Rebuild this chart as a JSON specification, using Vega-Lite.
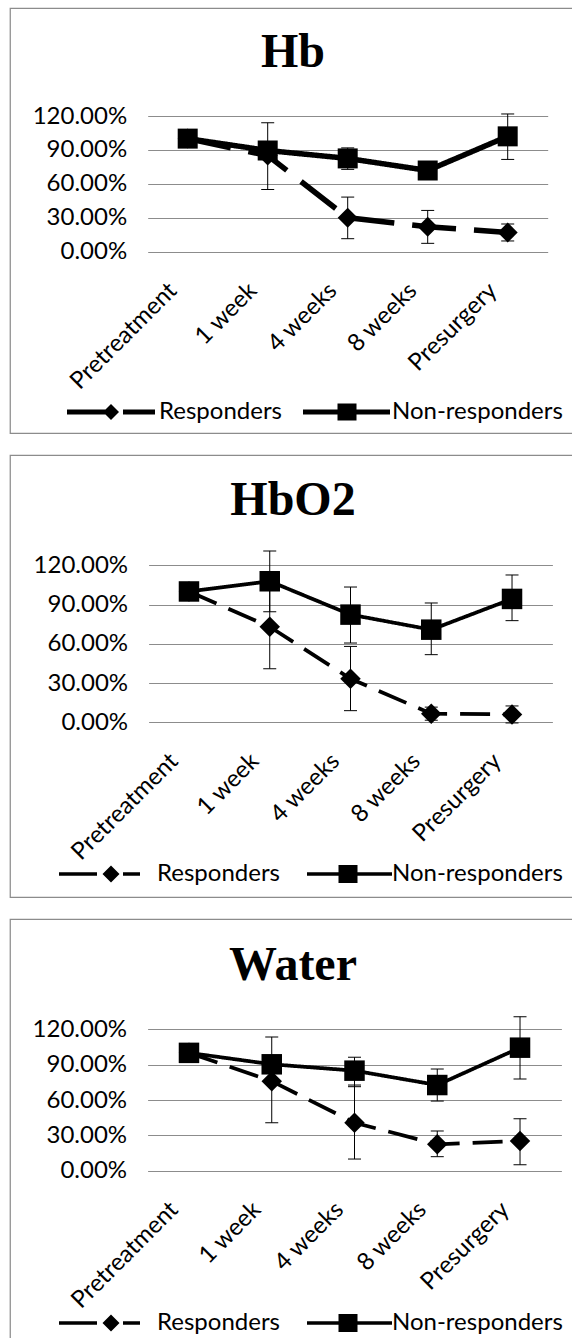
{
  "$schema": "https://vega.github.io/schema/vega-lite/v6.json",
  "padding": {"left": 9, "top": 7, "right": 0, "bottom": 0},
  "background": "white",
  "spacing": 20,
  "data": {"values": [
    {"p": "Hb", "t": "Pretreatment", "s": "Responders", "v": 1.0, "lo": 1.0, "hi": 1.0},
    {"p": "Hb", "t": "1 week", "s": "Responders", "v": 0.85, "lo": 0.55, "hi": 1.14},
    {"p": "Hb", "t": "4 weeks", "s": "Responders", "v": 0.30, "lo": 0.115, "hi": 0.483},
    {"p": "Hb", "t": "8 weeks", "s": "Responders", "v": 0.22, "lo": 0.074, "hi": 0.365},
    {"p": "Hb", "t": "Presurgery", "s": "Responders", "v": 0.17, "lo": 0.095, "hi": 0.245},
    {"p": "Hb", "t": "Pretreatment", "s": "Non-responders", "v": 1.0, "lo": 1.0, "hi": 1.0},
    {"p": "Hb", "t": "1 week", "s": "Non-responders", "v": 0.895, "lo": 0.83, "hi": 0.96},
    {"p": "Hb", "t": "4 weeks", "s": "Non-responders", "v": 0.825, "lo": 0.728, "hi": 0.918},
    {"p": "Hb", "t": "8 weeks", "s": "Non-responders", "v": 0.718, "lo": 0.66, "hi": 0.776},
    {"p": "Hb", "t": "Presurgery", "s": "Non-responders", "v": 1.02, "lo": 0.816, "hi": 1.218},
    {"p": "HbO2", "t": "Pretreatment", "s": "Responders", "v": 1.0, "lo": 1.0, "hi": 1.0},
    {"p": "HbO2", "t": "1 week", "s": "Responders", "v": 0.73, "lo": 0.41, "hi": 1.05},
    {"p": "HbO2", "t": "4 weeks", "s": "Responders", "v": 0.333, "lo": 0.089, "hi": 0.58},
    {"p": "HbO2", "t": "8 weeks", "s": "Responders", "v": 0.066, "lo": 0.016, "hi": 0.116},
    {"p": "HbO2", "t": "Presurgery", "s": "Responders", "v": 0.06, "lo": -0.005, "hi": 0.125},
    {"p": "HbO2", "t": "Pretreatment", "s": "Non-responders", "v": 1.0, "lo": 1.0, "hi": 1.0},
    {"p": "HbO2", "t": "1 week", "s": "Non-responders", "v": 1.078, "lo": 0.845, "hi": 1.31},
    {"p": "HbO2", "t": "4 weeks", "s": "Non-responders", "v": 0.823, "lo": 0.606, "hi": 1.034},
    {"p": "HbO2", "t": "8 weeks", "s": "Non-responders", "v": 0.708, "lo": 0.517, "hi": 0.912},
    {"p": "HbO2", "t": "Presurgery", "s": "Non-responders", "v": 0.943, "lo": 0.777, "hi": 1.126},
    {"p": "Water", "t": "Pretreatment", "s": "Responders", "v": 1.0, "lo": 1.0, "hi": 1.0},
    {"p": "Water", "t": "1 week", "s": "Responders", "v": 0.76, "lo": 0.407, "hi": 1.135},
    {"p": "Water", "t": "4 weeks", "s": "Responders", "v": 0.407, "lo": 0.099, "hi": 0.727},
    {"p": "Water", "t": "8 weeks", "s": "Responders", "v": 0.224, "lo": 0.119, "hi": 0.337},
    {"p": "Water", "t": "Presurgery", "s": "Responders", "v": 0.252, "lo": 0.051, "hi": 0.441},
    {"p": "Water", "t": "Pretreatment", "s": "Non-responders", "v": 1.0, "lo": 1.0, "hi": 1.0},
    {"p": "Water", "t": "1 week", "s": "Non-responders", "v": 0.903, "lo": 0.86, "hi": 0.95},
    {"p": "Water", "t": "4 weeks", "s": "Non-responders", "v": 0.849, "lo": 0.713, "hi": 0.963},
    {"p": "Water", "t": "8 weeks", "s": "Non-responders", "v": 0.727, "lo": 0.591, "hi": 0.863},
    {"p": "Water", "t": "Presurgery", "s": "Non-responders", "v": 1.044, "lo": 0.778, "hi": 1.307}
  ]},
  "resolve": {"scale": {"strokeDash": "independent", "x": "independent", "y": "independent"}, "legend": {"strokeDash": "independent"}},
  "vconcat": [
    {
      "width": 566, "height": 425,
      "view": {"stroke": "#8c8c8c", "strokeWidth": 1.25},
      "title": {"text": "Hb", "font": "Liberation Serif", "fontSize": 48, "fontWeight": "bold", "color": "black", "anchor": "middle", "offset": -69},
      "transform": [{"filter": "datum.p === 'Hb'"}],
      "resolve": {"scale": {"strokeDash": "independent"}, "legend": {"strokeDash": "independent"}},
      "encoding": {
        "x": {"field": "t", "type": "ordinal", "sort": ["Pretreatment", "1 week", "4 weeks", "8 weeks", "Presurgery"], "scale": {"type": "point", "range": [137.7, 537.7], "padding": 0.5}, "axis": {"title": null, "offset": -181.3, "labelAngle": -45, "labelAlign": "right", "labelBaseline": "middle", "labelPadding": 35, "labelOffset": -15, "labelFont": "Lato", "labelFontSize": 24, "labelColor": "black", "domain": false, "ticks": false, "grid": false, "labelOverlap": false, "labelBound": false}},
        "y": {"field": "v", "type": "quantitative", "scale": {"domain": [0, 1.2], "range": [243.7, 108], "nice": false, "zero": false}, "axis": {"title": null, "offset": -137.7, "values": [0, 0.3, 0.6, 0.9, 1.2], "format": ".2%", "grid": true, "gridColor": "#8c8c8c", "gridWidth": 1, "gridOpacity": 1, "domain": false, "ticks": false, "labelPadding": 21, "labelFont": "Lato", "labelFontSize": 24, "labelColor": "black"}}
      },
      "layer": [
        {"mark": {"type": "rule", "color": "black", "strokeWidth": 1}, "encoding": {"y": {"field": "lo", "type": "quantitative"}, "y2": {"field": "hi"}}},
        {"mark": {"type": "tick", "color": "black", "thickness": 1, "size": 13, "opacity": 1}, "encoding": {"y": {"field": "lo", "type": "quantitative"}}},
        {"mark": {"type": "tick", "color": "black", "thickness": 1, "size": 13, "opacity": 1}, "encoding": {"y": {"field": "hi", "type": "quantitative"}}},
        {"transform": [{"filter": "datum.s === 'Responders'"}], "mark": {"type": "line", "color": "black", "strokeWidth": 5.5}, "encoding": {"strokeDash": {"field": "s", "type": "nominal", "scale": {"domain": ["Responders"], "range": [[44, 18]]}, "legend": {"title": null, "orient": "none", "legendX": 89, "legendY": 392, "symbolType": "M-4.4,-0.25H0V0.25H-4.4Z M0,-0.8L0.8,0L0,0.8L-0.8,0Z M1.2,-0.25H4.4V0.25H1.2Z", "symbolSize": 400, "symbolStrokeWidth": 0, "symbolFillColor": "black", "symbolOpacity": 1, "labelFont": "Lato", "labelFontSize": 24, "labelColor": "black", "labelLimit": 400, "labelOffset": 36, "padding": 0, "encode": {"symbols": {"fill": {"value": "black"}, "stroke": {"value": "transparent"}, "strokeWidth": {"value": 0}, "opacity": {"value": 1}}}}}}},
        {"transform": [{"filter": "datum.s === 'Non-responders'"}], "mark": {"type": "line", "color": "black", "strokeWidth": 5.5}, "encoding": {"strokeDash": {"field": "s", "type": "nominal", "scale": {"domain": ["Non-responders"], "range": [[1, 0]]}, "legend": {"title": null, "orient": "none", "legendX": 325, "legendY": 392, "symbolType": "M-4.4,-0.25H4.3V0.25H-4.4Z M-0.95,-0.85H0.95V0.85H-0.95Z", "symbolSize": 400, "symbolStrokeWidth": 0, "symbolFillColor": "black", "symbolOpacity": 1, "labelFont": "Lato", "labelFontSize": 24, "labelColor": "black", "labelLimit": 400, "labelOffset": 33, "padding": 0, "encode": {"symbols": {"fill": {"value": "black"}, "stroke": {"value": "transparent"}, "strokeWidth": {"value": 0}, "opacity": {"value": 1}}}}}}},
        {"transform": [{"filter": "datum.s === 'Responders'"}], "mark": {"type": "point", "shape": "diamond", "filled": true, "color": "black", "opacity": 1, "size": 400}, "encoding": {}},
        {"transform": [{"filter": "datum.s === 'Non-responders'"}], "mark": {"type": "point", "shape": "square", "filled": true, "color": "black", "opacity": 1, "size": 400}, "encoding": {}}
      ]
    },
    {
      "width": 566, "height": 442,
      "view": {"stroke": "#8c8c8c", "strokeWidth": 1.25},
      "title": {"text": "HbO2", "font": "Liberation Serif", "fontSize": 48, "fontWeight": "bold", "color": "black", "anchor": "middle", "offset": -70},
      "transform": [{"filter": "datum.p === 'HbO2'"}],
      "resolve": {"scale": {"strokeDash": "independent"}, "legend": {"strokeDash": "independent"}},
      "encoding": {
        "x": {"field": "t", "type": "ordinal", "sort": ["Pretreatment", "1 week", "4 weeks", "8 weeks", "Presurgery"], "scale": {"type": "point", "range": [138.6, 542.4], "padding": 0.5}, "axis": {"title": null, "offset": -174.7, "labelAngle": -45, "labelAlign": "right", "labelBaseline": "middle", "labelPadding": 35, "labelOffset": -15, "labelFont": "Lato", "labelFontSize": 24, "labelColor": "black", "domain": false, "ticks": false, "grid": false, "labelOverlap": false, "labelBound": false}},
        "y": {"field": "v", "type": "quantitative", "scale": {"domain": [0, 1.2], "range": [267.3, 110.3], "nice": false, "zero": false}, "axis": {"title": null, "offset": -138.6, "values": [0, 0.3, 0.6, 0.9, 1.2], "format": ".2%", "grid": true, "gridColor": "#8c8c8c", "gridWidth": 1, "gridOpacity": 1, "domain": false, "ticks": false, "labelPadding": 21, "labelFont": "Lato", "labelFontSize": 24, "labelColor": "black"}}
      },
      "layer": [
        {"mark": {"type": "rule", "color": "black", "strokeWidth": 1}, "encoding": {"y": {"field": "lo", "type": "quantitative"}, "y2": {"field": "hi"}}},
        {"mark": {"type": "tick", "color": "black", "thickness": 1, "size": 13, "opacity": 1}, "encoding": {"y": {"field": "lo", "type": "quantitative"}}},
        {"mark": {"type": "tick", "color": "black", "thickness": 1, "size": 13, "opacity": 1}, "encoding": {"y": {"field": "hi", "type": "quantitative"}}},
        {"transform": [{"filter": "datum.s === 'Responders'"}], "mark": {"type": "line", "color": "black", "strokeWidth": 3.75}, "encoding": {"strokeDash": {"field": "s", "type": "nominal", "scale": {"domain": ["Responders"], "range": [[30, 13]]}, "legend": {"title": null, "orient": "none", "legendX": 89, "legendY": 407, "symbolType": "M-5.2,-0.18H-1.4V0.18H-5.2Z M0,-0.85L0.85,0L0,0.85L-0.85,0Z M1.2,-0.18H2.9V0.18H1.2Z", "symbolSize": 400, "symbolStrokeWidth": 0, "symbolFillColor": "black", "symbolOpacity": 1, "labelFont": "Lato", "labelFontSize": 24, "labelColor": "black", "labelLimit": 400, "labelOffset": 34, "padding": 0, "encode": {"symbols": {"fill": {"value": "black"}, "stroke": {"value": "transparent"}, "strokeWidth": {"value": 0}, "opacity": {"value": 1}}}}}}},
        {"transform": [{"filter": "datum.s === 'Non-responders'"}], "mark": {"type": "line", "color": "black", "strokeWidth": 3.75}, "encoding": {"strokeDash": {"field": "s", "type": "nominal", "scale": {"domain": ["Non-responders"], "range": [[1, 0]]}, "legend": {"title": null, "orient": "none", "legendX": 326, "legendY": 407, "symbolType": "M-4.1,-0.18H4.4V0.18H-4.1Z M-0.95,-0.9H0.95V0.9H-0.95Z", "symbolSize": 400, "symbolStrokeWidth": 0, "symbolFillColor": "black", "symbolOpacity": 1, "labelFont": "Lato", "labelFontSize": 24, "labelColor": "black", "labelLimit": 400, "labelOffset": 32, "padding": 0, "encode": {"symbols": {"fill": {"value": "black"}, "stroke": {"value": "transparent"}, "strokeWidth": {"value": 0}, "opacity": {"value": 1}}}}}}},
        {"transform": [{"filter": "datum.s === 'Responders'"}], "mark": {"type": "point", "shape": "diamond", "filled": true, "color": "black", "opacity": 1, "size": 420}, "encoding": {}},
        {"transform": [{"filter": "datum.s === 'Non-responders'"}], "mark": {"type": "point", "shape": "square", "filled": true, "color": "black", "opacity": 1, "size": 420}, "encoding": {}}
      ]
    },
    {
      "width": 566, "height": 430,
      "view": {"stroke": "#8c8c8c", "strokeWidth": 1.25},
      "title": {"text": "Water", "font": "Liberation Serif", "fontSize": 48, "fontWeight": "bold", "color": "black", "anchor": "middle", "offset": -71},
      "transform": [{"filter": "datum.p === 'Water'"}],
      "resolve": {"scale": {"strokeDash": "independent"}, "legend": {"strokeDash": "independent"}},
      "encoding": {
        "x": {"field": "t", "type": "ordinal", "sort": ["Pretreatment", "1 week", "4 weeks", "8 weeks", "Presurgery"], "scale": {"type": "point", "range": [137.6, 551.4], "padding": 0.5}, "axis": {"title": null, "offset": -178.3, "labelAngle": -45, "labelAlign": "right", "labelBaseline": "middle", "labelPadding": 35, "labelOffset": -15, "labelFont": "Lato", "labelFontSize": 24, "labelColor": "black", "domain": false, "ticks": false, "grid": false, "labelOverlap": false, "labelBound": false}},
        "y": {"field": "v", "type": "quantitative", "scale": {"domain": [0, 1.2], "range": [251.7, 110.3], "nice": false, "zero": false}, "axis": {"title": null, "offset": -137.6, "values": [0, 0.3, 0.6, 0.9, 1.2], "format": ".2%", "grid": true, "gridColor": "#8c8c8c", "gridWidth": 1, "gridOpacity": 1, "domain": false, "ticks": false, "labelPadding": 21, "labelFont": "Lato", "labelFontSize": 24, "labelColor": "black"}}
      },
      "layer": [
        {"mark": {"type": "rule", "color": "black", "strokeWidth": 1}, "encoding": {"y": {"field": "lo", "type": "quantitative"}, "y2": {"field": "hi"}}},
        {"mark": {"type": "tick", "color": "black", "thickness": 1, "size": 13, "opacity": 1}, "encoding": {"y": {"field": "lo", "type": "quantitative"}}},
        {"mark": {"type": "tick", "color": "black", "thickness": 1, "size": 13, "opacity": 1}, "encoding": {"y": {"field": "hi", "type": "quantitative"}}},
        {"transform": [{"filter": "datum.s === 'Responders'"}], "mark": {"type": "line", "color": "black", "strokeWidth": 3.75}, "encoding": {"strokeDash": {"field": "s", "type": "nominal", "scale": {"domain": ["Responders"], "range": [[30, 13]]}, "legend": {"title": null, "orient": "none", "legendX": 89, "legendY": 392, "symbolType": "M-5.2,-0.18H-1.4V0.18H-5.2Z M0,-0.85L0.85,0L0,0.85L-0.85,0Z M1.2,-0.18H2.9V0.18H1.2Z", "symbolSize": 400, "symbolStrokeWidth": 0, "symbolFillColor": "black", "symbolOpacity": 1, "labelFont": "Lato", "labelFontSize": 24, "labelColor": "black", "labelLimit": 400, "labelOffset": 34, "padding": 0, "encode": {"symbols": {"fill": {"value": "black"}, "stroke": {"value": "transparent"}, "strokeWidth": {"value": 0}, "opacity": {"value": 1}}}}}}},
        {"transform": [{"filter": "datum.s === 'Non-responders'"}], "mark": {"type": "line", "color": "black", "strokeWidth": 3.75}, "encoding": {"strokeDash": {"field": "s", "type": "nominal", "scale": {"domain": ["Non-responders"], "range": [[1, 0]]}, "legend": {"title": null, "orient": "none", "legendX": 326, "legendY": 392, "symbolType": "M-4.1,-0.18H4.4V0.18H-4.1Z M-0.95,-0.9H0.95V0.9H-0.95Z", "symbolSize": 400, "symbolStrokeWidth": 0, "symbolFillColor": "black", "symbolOpacity": 1, "labelFont": "Lato", "labelFontSize": 24, "labelColor": "black", "labelLimit": 400, "labelOffset": 32, "padding": 0, "encode": {"symbols": {"fill": {"value": "black"}, "stroke": {"value": "transparent"}, "strokeWidth": {"value": 0}, "opacity": {"value": 1}}}}}}},
        {"transform": [{"filter": "datum.s === 'Responders'"}], "mark": {"type": "point", "shape": "diamond", "filled": true, "color": "black", "opacity": 1, "size": 420}, "encoding": {}},
        {"transform": [{"filter": "datum.s === 'Non-responders'"}], "mark": {"type": "point", "shape": "square", "filled": true, "color": "black", "opacity": 1, "size": 420}, "encoding": {}}
      ]
    }
  ]
}
